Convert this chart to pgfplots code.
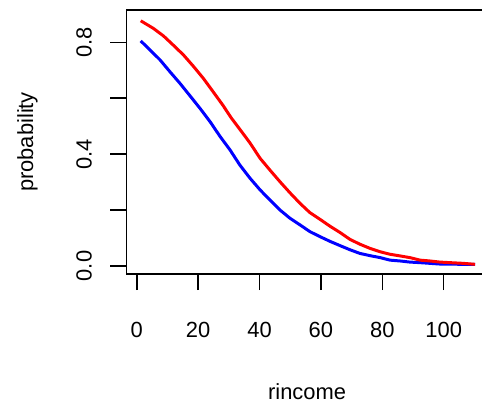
\documentclass[border=0pt]{standalone}
\usepackage{pgfplots}
\pgfplotsset{compat=1.18}
\usetikzlibrary{calc}
\usepackage{fontspec}
\setmainfont{Liberation Sans}

\begin{document}
\begin{tikzpicture}
\begin{axis}[
  scale only axis,
  width=361.6bp, height=264bp,
  xmin=-3.4, xmax=114.4,
  ymin=-0.0286, ymax=0.9156,
  axis line style={line width=1.6pt},
  tick style={line width=1.6pt, black},
  tick align=outside,
  major tick length=16bp,
  xtick={0,20,40,60,80,100},
  ytick={0,0.2,0.4,0.6,0.8},
  yticklabels={0.0,,0.4,,0.8},
  /pgf/number format/assume math mode=true,
  ticklabel style={font=\fontsize{22}{26}\selectfont},
  xticklabel style={anchor=north, inner sep=0pt, yshift=-32bp},
  yticklabel style={rotate=90, anchor=south, inner sep=0pt, yshift=18.3bp},
  xtick pos=bottom, ytick pos=left,
  clip=false,
]
\addplot[blue, line width=3pt, line join=round] coordinates {
(1.3,0.805)(4.3,0.773)(7.6,0.737)(10.8,0.695)(14.1,0.653)(17.4,0.608)
(20.6,0.564)(23.9,0.516)(27.1,0.464)(30.4,0.415)(33.6,0.361)(36.9,0.314)
(40.2,0.272)(43.4,0.236)(46.7,0.200)(49.9,0.171)(53.2,0.147)(56.4,0.123)
(59.7,0.105)(63.0,0.088)(66.2,0.073)(69.5,0.058)(72.7,0.045)(76.0,0.037)
(79.3,0.030)(82.5,0.021)(85.8,0.018)(89.0,0.014)(92.3,0.012)(95.5,0.0095)
(98.8,0.007)(106.4,0.006)(110.2,0.006)};
\addplot[red, line width=3pt, line join=round] coordinates {
(1.3,0.877)(5.4,0.850)(8.7,0.823)(11.9,0.790)(15.2,0.755)(18.4,0.715)
(21.7,0.671)(24.9,0.623)(28.0,0.576)(30.9,0.528)(34.2,0.480)(36.9,0.440)
(40.2,0.385)(43.4,0.343)(46.7,0.301)(49.9,0.262)(53.2,0.224)(56.4,0.191)
(59.7,0.167)(63.0,0.142)(66.2,0.120)(69.5,0.095)(72.7,0.078)(76.0,0.063)
(79.3,0.051)(82.5,0.042)(85.8,0.036)(89.0,0.030)(92.3,0.021)(95.5,0.018)
(98.8,0.014)(102.1,0.012)(106.4,0.0095)(110.2,0.006)};
\end{axis}
\node[anchor=base, font=\fontsize{22}{26}\selectfont]
  at ($(current axis.south)+(0,-125bp)$) {rincome};
\node[rotate=90, anchor=center, font=\fontsize{22}{26}\selectfont]
  at ($(current axis.west)+(-98.8bp,0)$) {probability};
\pgfresetboundingbox
\path[use as bounding box] ($(current axis.south west)+(-126.3bp,-134bp)$)
  rectangle ($(current axis.north west)+(355.7bp,10bp)$);
\end{tikzpicture}
\end{document}
